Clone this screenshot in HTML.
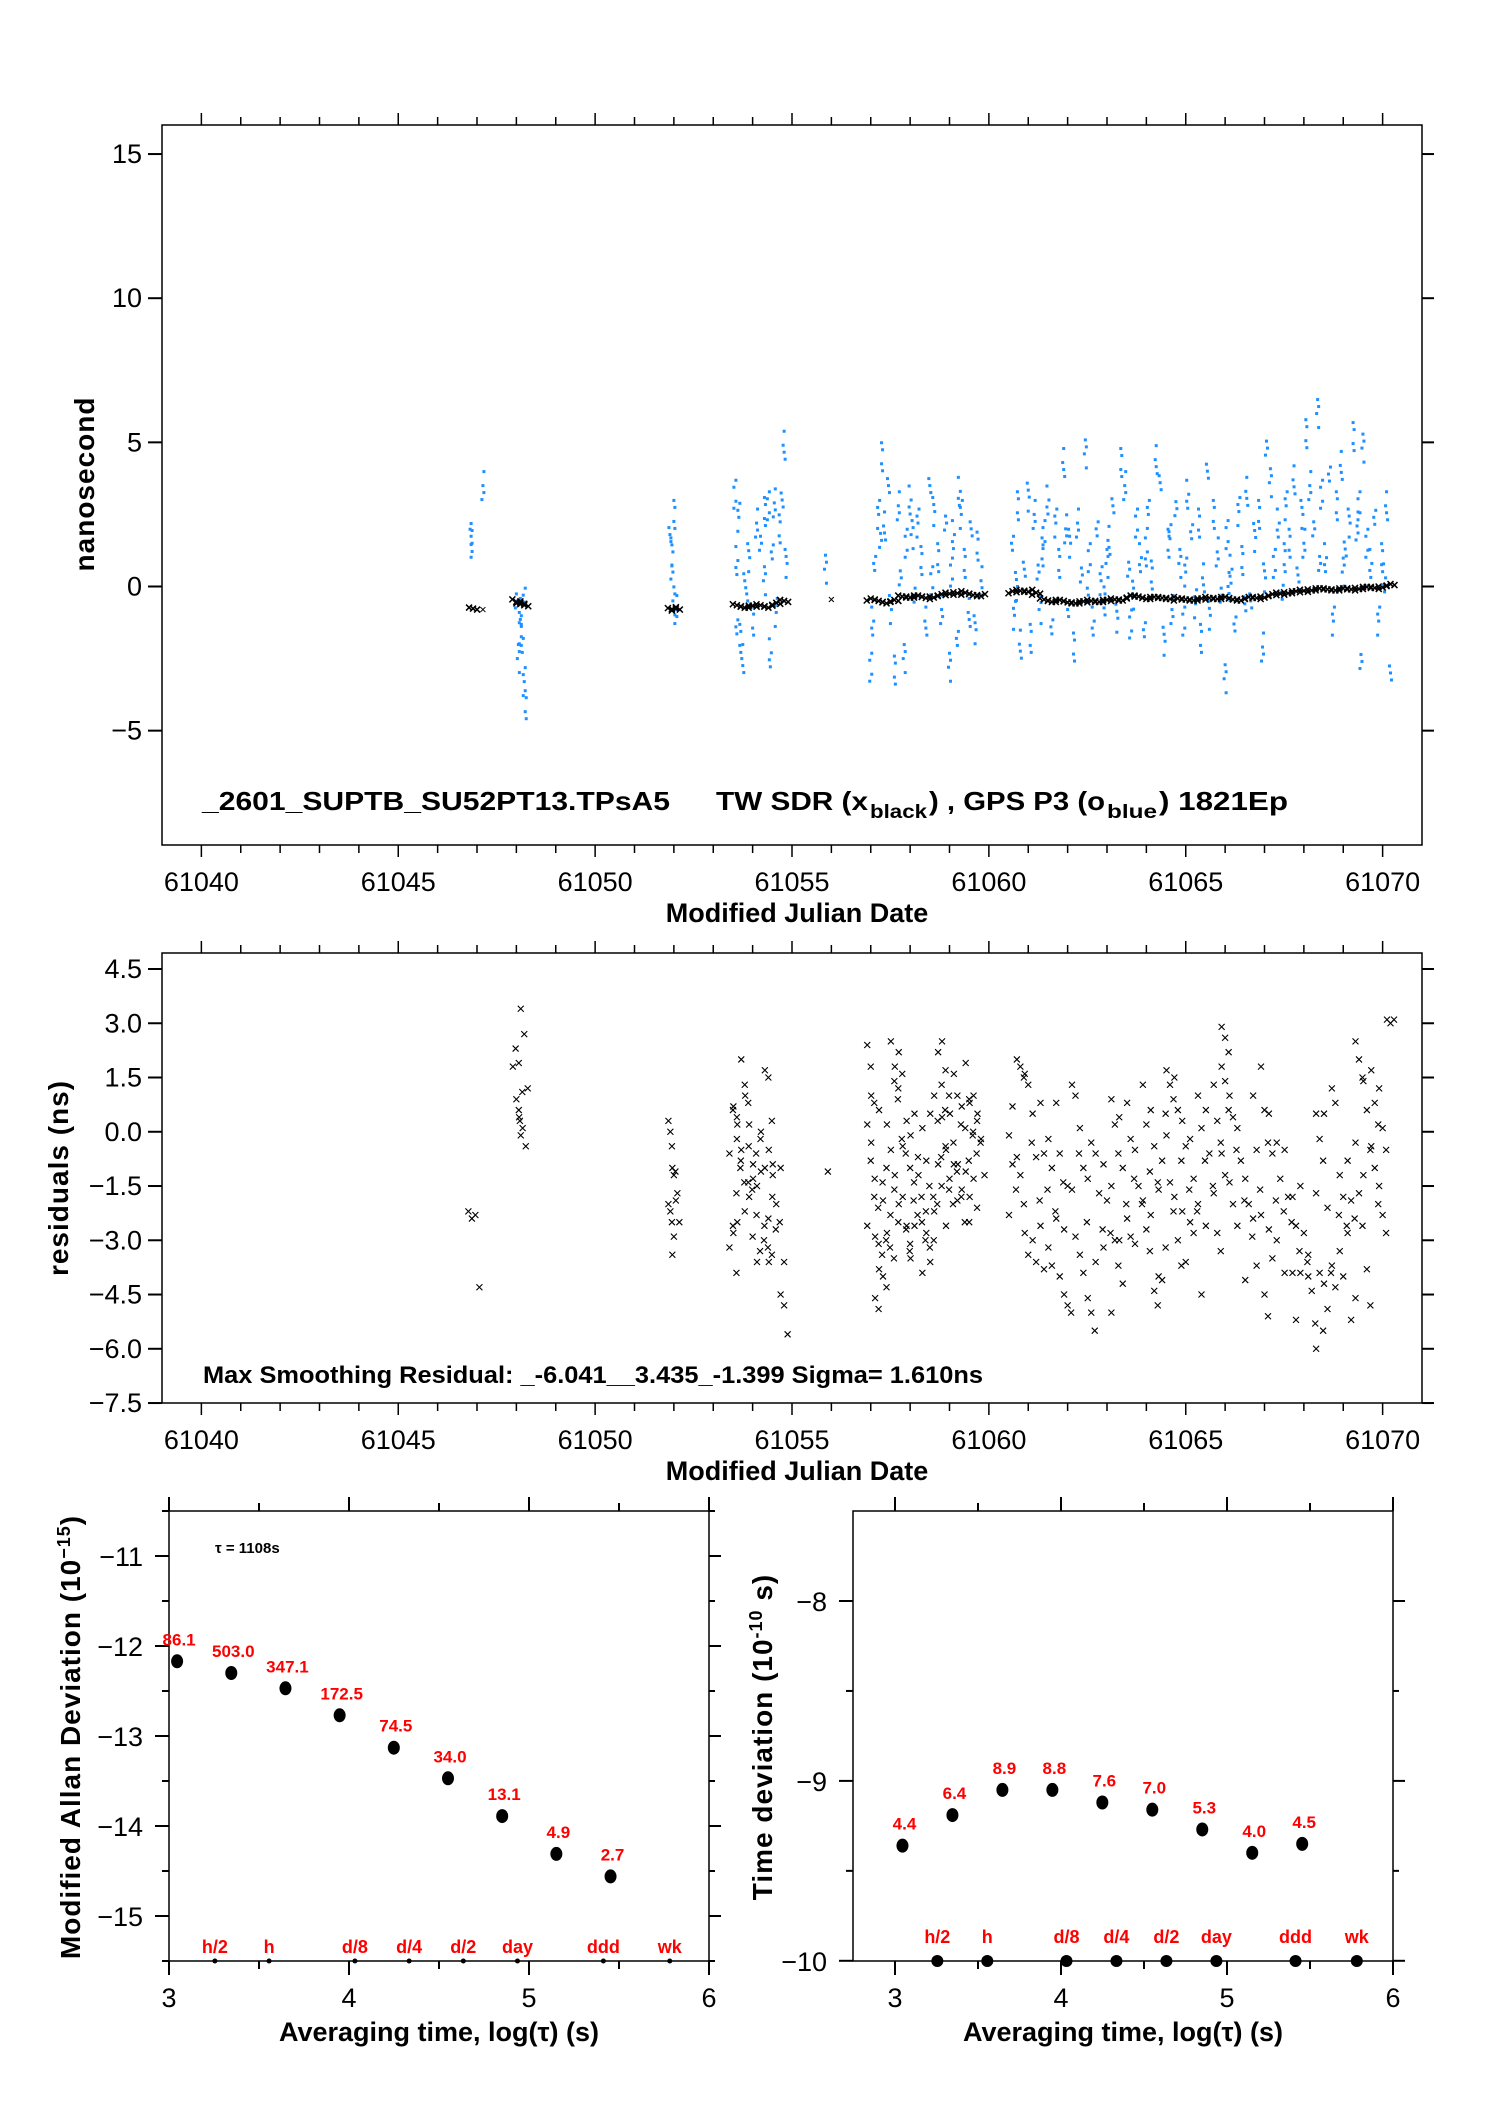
<!DOCTYPE html>
<html><head><meta charset="utf-8"><style>
html,body{margin:0;padding:0;background:#fff;}
svg{display:block;}
text{font-family:"Liberation Sans",Arial,sans-serif;}
</style></head><body>
<svg id="chart" width="1488" height="2105" viewBox="0 0 1488 2105" xmlns="http://www.w3.org/2000/svg">
<rect x="0" y="0" width="1488" height="2105" fill="#fff"/>
<g id="gTop"></g>
<g id="gMid"></g>
<g id="gBL"></g>
<g id="gBR"></g>
</svg>
<script>
// ---------- DATA ----------
const twMjd = [46.9,47.15,48.0,48.1,48.2,51.95,52.05,53.6,53.8,54.0,54.2,54.4,54.6,54.8,56.0,57.0,57.2,57.4,57.6,57.8,58.0,58.2,58.4,58.6,58.8,59.0,59.2,59.4,59.6,59.8,60.6,60.8,61.0,61.2,61.4,61.6,61.8,62.0,62.2,62.4,62.6,62.8,63.0,63.2,63.4,63.6,63.8,64.0,64.2,64.4,64.6,64.8,65.0,65.2,65.4,65.6,65.8,66.0,66.2,66.4,66.6,66.8,67.0,67.2,67.4,67.6,67.8,68.0,68.2,68.4,68.6,68.8,69.0,69.2,69.4,69.6,69.8,70.0,70.2];
const twNs = [-0.8,-0.8,-0.55,-0.6,-0.65,-0.75,-0.8,-0.65,-0.7,-0.7,-0.65,-0.7,-0.6,-0.5,-0.45,-0.45,-0.5,-0.55,-0.5,-0.35,-0.35,-0.35,-0.4,-0.35,-0.3,-0.25,-0.2,-0.25,-0.3,-0.3,-0.2,-0.15,-0.15,-0.25,-0.45,-0.5,-0.5,-0.55,-0.55,-0.55,-0.5,-0.5,-0.5,-0.45,-0.45,-0.35,-0.35,-0.4,-0.4,-0.4,-0.4,-0.45,-0.45,-0.45,-0.45,-0.4,-0.4,-0.4,-0.45,-0.45,-0.4,-0.4,-0.35,-0.3,-0.25,-0.2,-0.2,-0.15,-0.1,-0.1,-0.1,-0.1,-0.1,-0.1,-0.05,-0.05,-0.05,0.0,0.05];
const gpsMjd = [46.85,46.85,47.15,48.0,48.05,48.1,48.15,48.2,48.2,48.25,48.1,51.9,51.95,52.0,52.05,51.95,52.0,53.55,53.6,53.6,53.65,53.7,53.75,53.8,53.9,54.0,54.1,54.2,54.3,54.4,54.45,54.5,54.6,54.7,54.8,54.75,54.85,54.3,54.55,53.85,55.85,57.0,57.05,57.1,57.2,57.3,57.35,57.45,57.5,57.6,57.7,57.75,57.85,57.9,58.0,58.1,58.2,58.3,58.4,58.5,58.6,58.7,58.8,58.9,59.0,59.05,59.1,59.2,59.3,59.4,59.5,59.55,59.65,59.7,59.8,57.25,58.05,58.55,59.25,60.6,60.65,60.75,60.8,60.9,61.0,61.05,61.15,61.25,61.3,61.4,61.5,61.6,61.7,61.8,61.9,62.0,62.05,62.15,62.25,62.35,62.45,62.55,62.65,62.75,62.85,62.95,63.05,63.15,63.25,63.35,63.45,63.55,63.65,63.75,63.85,63.95,64.05,64.15,64.25,64.35,64.45,64.55,64.65,64.75,64.85,64.95,65.05,65.15,65.25,65.35,65.45,65.55,65.6,65.7,65.8,65.9,66.0,66.05,66.15,66.25,66.35,66.45,66.55,66.65,66.75,66.85,66.95,67.05,67.15,67.25,67.35,67.45,67.55,67.65,67.75,67.85,67.95,68.05,68.15,68.25,68.35,68.45,68.55,68.65,68.75,68.85,68.95,69.05,69.15,69.25,69.35,69.45,69.5,69.6,69.7,69.8,69.9,70.0,70.1,70.2,60.7,61.35,61.95,62.5,63.0,63.6,64.0,64.6,65.0,65.4,66.1,66.5,67.0,67.5,68.0,68.4,69.0,69.4,70.05];
const gpsNs = [1.5,1.7,3.5,-0.5,-2.5,-1.5,-1.8,-0.3,-3.3,-4.1,-0.9,1.8,1.2,2.5,-0.8,0.5,-0.5,3.2,0.9,-1.4,2.4,-1.8,-2.5,0.2,1.0,-1.2,2.2,1.5,0.2,2.8,-2.3,1.2,-0.9,2.0,4.9,3.0,0.8,2.6,2.9,-0.5,0.6,-2.8,-1.2,0.8,2.5,4.5,2.1,3.5,-0.8,-2.9,2.8,0.3,-2.5,1.5,3.0,-0.3,2.2,0.9,-1.2,3.5,2.6,1.0,-0.8,2.2,-2.8,0.5,1.8,-1.8,2.5,0.8,-0.9,2.0,-1.5,1.4,0.2,1.6,1.8,0.2,3.3,1.5,-1.0,2.8,-2.0,0.6,3.1,-1.8,2.5,0.5,-0.8,1.8,3.0,-1.4,2.2,0.8,4.3,-0.8,1.5,-2.1,2.2,0.4,4.6,1.0,-1.2,2.0,0.2,-0.5,1.6,2.8,-1.1,4.3,3.5,0.6,-0.3,2.2,1.0,-1.5,2.5,0.4,4.4,3.6,-1.9,1.5,-0.8,2.7,0.8,-1.2,3.2,1.9,-0.6,2.2,0.3,4.0,-1.0,2.5,1.2,-0.3,-3.2,1.8,0.6,-1.3,2.6,0.9,3.3,-0.5,1.7,2.5,-2.1,4.8,3.6,0.8,2.2,-0.2,2.8,1.5,3.7,0.4,2.5,5.3,3.5,2.0,6.0,3.2,1.0,3.9,-1.2,2.8,4.2,1.3,2.2,5.2,2.1,-2.6,4.8,1.5,0.8,2.4,-1.2,1.0,2.8,-3.0,0.0,1.2,2.0,-0.3,0.8,-1.3,1.2,1.9,0.5,-1.8,0.0,-0.6,0.3,1.0,1.5,0.8,0.5,2.8,0.3];
const resDays = [46.87,47.15,48.0,48.07,48.15,48.2,51.95,52.0,52.05,53.5,53.6,53.7,53.8,53.9,54.0,54.1,54.2,54.3,54.4,54.5,54.6,54.8,56.0,57.0,57.1,57.2,57.3,57.4,57.5,57.6,57.7,57.8,57.9,58.0,58.1,58.2,58.3,58.4,58.5,58.6,58.7,58.8,58.9,59.0,59.1,59.2,59.3,59.4,59.5,59.6,59.7,59.8,60.6,60.8,61.0,61.2,61.4,61.6,61.8,62.0,62.2,62.4,62.6,62.8,63.0,63.2,63.4,63.6,63.8,64.0,64.2,64.4,64.6,64.8,65.0,65.2,65.4,65.6,65.8,66.0,66.2,66.4,66.6,66.8,67.0,67.2,67.4,67.6,67.8,68.0,68.2,68.4,68.6,68.8,69.0,69.2,69.4,69.6,69.8,70.0,70.2];
const resVals = [[-2.2,-2.4,-2.3],[-4.3],[1.8,0.9,0.3],[2.3,0.4,0.1],[1.9,1.1,-0.4,0.6],[3.4,2.7,1.2,-0.1],[0.3,-0.4,-1.1,-2.0,-2.5],[0.0,-1.2,-1.7,-2.2,-2.9],[-1.0,-1.9,-2.5,-3.4],[-3.2,-2.6,-1.7,-0.6,0.6,-3.9],[0.7,-0.2,-1.0,-2.8,0.4],[0.2,-0.8,-1.4,-2.5],[2.0,1.3,0.8,-0.5,-2.2,-1.4],[1.0,-0.4,-1.6],[-1.8,-2.9,-0.6,0.2],[-0.9,-2.3,-3.3,-1.3],[-1.5,-0.2,-3.0,-3.6],[0.0,-2.6,-3.2,-1.1],[1.7,1.5,0.3,-1.0,-2.4,-3.4],[-0.5,-1.8,-2.7,-3.6],[-1.2,-2.0,-2.5,-0.9],[-4.5,-4.8,-5.6,-1.0,-3.6],[-1.1],[2.4,1.8,0.8,0.2,-0.8,-1.8,-2.6],[-0.3,-1.3,-2.1,1.0],[-2.9,-3.1,-3.4,-4.6,-4.9],[0.6,-1.4,-3.0,-3.8],[-4.0,-4.3,-3.2,-1.9,-1.0],[0.2,-2.3,-3.5,-2.8],[2.5,1.4,0.9,-0.5,-1.6],[1.8,1.2,-0.2,-1.2,-2.5],[2.2,1.6,-0.6,-2.0],[-1.8,-2.7,-3.3,-0.4],[0.3,-1.0,-1.9,-2.6,-3.1],[-0.1,-1.4,-2.3,-3.5],[0.5,-0.7,-1.8,-2.6],[-1.2,-2.5,-3.0],[-3.9,-2.2,-1.5,0.1],[-2.8,-3.2,-1.8,-0.8],[-3.6,-3.0,-2.0,0.5],[1.0,0.3,-0.7,-2.2],[2.2,1.3,0.6,-0.9,-1.5],[2.5,1.7,1.0,0.4,-0.4,-1.6],[-0.5,-1.3,-2.0,-2.6],[0.5,-0.3,-1.1],[1.6,1.0,0.2,-0.9,-1.9],[-0.9,-1.8,-2.5],[0.7,0.1,-0.8,-1.6],[1.9,0.9,-0.1,-1.1,-2.5],[0.8,0.0,-0.6,-1.8],[1.0,0.3,-0.3,-1.3,-2.1],[0.5,-0.2,-1.2],[-0.1,-0.9,-1.6,-2.3,0.7],[2.0,1.8,1.5,-0.7,-1.2,-2.0],[1.6,1.3,-0.3,-2.8,-3.4],[0.5,-0.7,-1.9,-3.0,-3.6],[0.8,-0.6,-1.6,-2.6,-3.8],[-0.2,-1.0,-2.2,-3.2,-3.7],[0.8,-0.6,-1.4,-2.4,-4.0],[-4.5,-4.8,-5.0,-2.7,-1.5],[1.3,1.0,-0.6,-1.6,-2.9],[0.1,-1.0,-2.5,-3.4,-3.9],[-4.6,-5.0,-5.5,-1.3,-0.3],[-0.6,-1.7,-2.7,-3.6],[-0.9,-1.9,-2.8,-3.2],[0.9,0.2,-0.6,-1.5,-3.0,-3.7,-5.0],[0.4,-1.0,-2.0,-3.0,-4.2],[0.8,-0.2,-1.3,-2.4,-2.9],[-0.5,-1.5,-2.0,-3.1],[1.3,0.2,-1.1,-1.9,-2.7,-3.3],[0.6,-0.4,-1.4,-2.3,-4.4,-4.8],[-4.0,-4.1,-3.2,-1.6,-0.8,0.5],[1.7,1.3,0.9,-0.1,-1.4,-2.2],[1.5,0.6,-0.8,-1.8,-3.0,-3.7],[0.3,-0.4,-1.6,-2.2,-3.6],[-0.2,-1.3,-2.2,-2.5,-2.8],[1.0,0.1,-0.8,-2.0,-4.5],[0.6,-0.6,-1.5,-2.6],[1.3,0.3,-0.3,-1.7,-2.8,-3.3],[2.9,2.6,2.2,1.8,1.4,0.6,-0.6,-1.2],[1.0,0.4,-0.5,-1.4,-2.0],[0.1,-0.8,-1.9,-2.6],[-1.3,-2.0,-2.9,-4.1],[1.0,-0.5,-1.6,-2.4,-3.7],[1.8,0.6,-0.3,-2.3,-4.5,-5.1],[0.5,-0.6,-1.9,-2.7,-3.5],[-0.3,-1.3,-2.2,-3.0],[-0.5,-1.8,-2.5,-3.9],[-1.8,-2.6,-3.3,-3.9,-5.2],[-1.5,-2.8,-3.6,-3.9],[-4.0,-4.4,-5.3,-3.4],[0.5,-0.2,-0.8,-1.7,-3.9,-5.5,-6.0],[0.5,-2.1,-3.9,-4.2,-4.9],[1.2,0.8,-2.3,-3.7,-4.3],[-1.2,-1.8,-2.6,-3.3,-4.0],[-0.8,-1.9,-2.4,-2.8,-5.2],[2.5,2.0,1.5,-0.3,-1.7,-2.6,-4.6],[1.4,0.6,-0.5,-1.2,-3.8,-4.8],[1.7,0.8,0.2,-0.4,-1.0,-2.0],[1.2,0.1,-0.5,-1.5,-2.3,-2.8],[3.1,3.0,3.1]];
const logTau = [3.045,3.346,3.647,3.948,4.249,4.550,4.851,5.152,5.453];
const mdevVals = [-12.17,-12.3,-12.47,-12.77,-13.13,-13.47,-13.89,-14.31,-14.56];
const mdevLabels = ["86.1","503.0","347.1","172.5","74.5","34.0","13.1","4.9","2.7"];
const tdevVals = [-9.36,-9.19,-9.05,-9.05,-9.12,-9.16,-9.27,-9.40,-9.35];
const tdevLabels = ["4.4","6.4","8.9","8.8","7.6","7.0","5.3","4.0","4.5"];
const markerNames = ["h/2","h","d/8","d/4","d/2","day","ddd","wk"];
const markerLog = [3.255,3.556,4.033,4.334,4.635,4.936,5.413,5.782];
const topYTicks = [15,10,5,0,-5];
const midYTicks = [4.5,3.0,1.5,0.0,-1.5,-3.0,-4.5,-6.0,-7.5];
const mjdTicks = [61040,61045,61050,61055,61060,61065,61070];

// ---------- HELPERS ----------
const NS='http://www.w3.org/2000/svg';
function mk(parent,tag,attrs,txt){const e=document.createElementNS(NS,tag);for(const k in attrs)e.setAttribute(k,attrs[k]);if(txt!==undefined)e.textContent=txt;parent.appendChild(e);return e;}
function fmt(v,d){const s=Math.abs(v).toFixed(d);return (v<0?'\u2212':'')+s;}

const MJD0=61039, MJD1=61071, FX0=162, FX1=1422;
const xM = m => FX0+(m-MJD0)*(FX1-FX0)/(MJD1-MJD0);
const yTop = v => 586.5 - v*28.83;
const yMid = v => 969 + (4.5-v)*36.17;
const xBL = l => 169 + (l-3)*180;
const yBL = v => 1556 + (-11 - v)*90;
const xBR = l => 895 + (l-3)*166;
const yBR = v => 1601 + (-8 - v)*179.9;

function frame(g,x0,y0,x1,y1){
  const r=mk(g,'rect',{x:x0,y:y0,width:x1-x0,height:y1-y0,fill:'none',stroke:'#000','stroke-width':1.5});
  
  
}
function mjdAxis(g,y0,y1,labelY,titleY){
  for(let d=MJD0+1;d<=MJD1-1;d++){
    const x=xM(d);const major=(d%5===0);const L=major?12:8;
    mk(g,'line',{x1:x,y1:y0,x2:x,y2:y0-L,stroke:'#000','stroke-width':1.5});
    mk(g,'line',{x1:x,y1:y1,x2:x,y2:y1+L,stroke:'#000','stroke-width':1.5});
  }
  mjdTicks.forEach(t=>{
    const e=mk(g,'text',{x:xM(t),y:labelY,'font-size':27,'text-anchor':'middle'},String(t));
    
    
  });
  const tt=mk(g,'text',{x:797,y:titleY,'font-size':27,'font-weight':'bold','text-anchor':'middle'},'Modified Julian Date');
  
  
}
function yTicks(g,vals,yf,x0,x1,dec){
  vals.forEach(v=>{
    const y=yf(v);
    mk(g,'line',{x1:x0,y1:y,x2:x0-14,y2:y,stroke:'#000','stroke-width':2});
    mk(g,'line',{x1:x1,y1:y,x2:x1+12,y2:y,stroke:'#000','stroke-width':2});
    const e=mk(g,'text',{x:x0-20,y:y+9,'font-size':27,'text-anchor':'end'},fmt(v,dec));
    
    
  });
}
function xMark(g,x,y,h,w){
  mk(g,'path',{d:`M${x-h} ${y-h}L${x+h} ${y+h}M${x-h} ${y+h}L${x+h} ${y-h}`,stroke:'#000','stroke-width':w,fill:'none'});
}

// ---------- TOP PLOT ----------
const gT=document.getElementById('gTop');
frame(gT,FX0,125,FX1,845);
mjdAxis(gT,125,845,891,922);
yTicks(gT,topYTicks,yTop,FX0,FX1,0);
const ytT=mk(gT,'text',{x:0,y:0,'font-size':28,'font-weight':'bold','text-anchor':'middle',transform:'translate(94,484) rotate(-90)','letter-spacing':'1'},'nanosecond');


const gpsG=mk(gT,'g',{fill:'#1e90ff'});


gpsMjd.forEach((m,i)=>{
  const x=xM(61000+m), y=yTop(gpsNs[i]);
  [-14,-7,0,7,14].forEach((o,k)=>{ if((i+k)%4!==3) mk(gpsG,'rect',{x:x-1.5+((i*7+k)%3-1),y:y+o-1.5,width:3,height:3}); });
});
const twG=mk(gT,'g',{});


twMjd.forEach((m,i)=>{
  const x=xM(61000+m), y=yTop(twNs[i]);
  const solo=(m===47.15||m===56.0);
  if(solo){xMark(twG,x,y,2.5,1);return;}
  [-4,0,4].forEach(o=>xMark(twG,x+o,y+((i+o)%3)-1,3,1.5));
});
const ann=mk(gT,'text',{y:810,'font-size':26,'font-weight':'bold'});


mk(ann,'tspan',{x:202,textLength:468,lengthAdjust:'spacingAndGlyphs'},'_2601_SUPTB_SU52PT13.TPsA5');
mk(ann,'tspan',{x:716,textLength:152,lengthAdjust:'spacingAndGlyphs'},'TW SDR (x');
mk(ann,'tspan',{x:870,dy:8,'font-size':19,textLength:57,lengthAdjust:'spacingAndGlyphs'},'black');
mk(ann,'tspan',{x:929,dy:-8,textLength:176,lengthAdjust:'spacingAndGlyphs'},') ,  GPS P3 (o');
mk(ann,'tspan',{x:1107,dy:8,'font-size':19,textLength:50,lengthAdjust:'spacingAndGlyphs'},'blue');
mk(ann,'tspan',{x:1159,dy:-8,textLength:129,lengthAdjust:'spacingAndGlyphs'},')  1821Ep');

// ---------- MIDDLE PLOT ----------
const gM=document.getElementById('gMid');
frame(gM,FX0,953,FX1,1403);
mjdAxis(gM,953,1403,1449,1480);
yTicks(gM,midYTicks,yMid,FX0,FX1,1);
const ytM=mk(gM,'text',{x:0,y:0,'font-size':28,'font-weight':'bold','text-anchor':'middle',transform:'translate(68,1178) rotate(-90)','letter-spacing':'1'},'residuals (ns)');


const rG=mk(gM,'g',{});


resDays.forEach((d,i)=>{
  resVals[i].forEach((v,k)=>{
    const x=xM(61000+d)+((k%3)-1)*3.5, y=yMid(v);
    xMark(rG,x,y,3,1.1);
  });
});
const a2=mk(gM,'text',{x:203,y:1383,'font-size':24,'font-weight':'bold',textLength:780,lengthAdjust:'spacingAndGlyphs'},'Max Smoothing Residual: _-6.041__3.435_-1.399  Sigma= 1.610ns');



// ---------- BOTTOM PANELS ----------
function devPanel(g,x0,x1,xf,yf,ymaj,ymin,vals,labels,markDotR,markLabelY,titleX,titleText,titleSup,titleTail){
  const y0=1511,y1=1961;
  frame(g,x0,y0,x1,y1);
  for(let l=3;l<=6.001;l+=0.5){
    const x=xf(l);const major=Math.abs(l-Math.round(l))<0.01;const L=major?14:8;
    mk(g,'line',{x1:x,y1:y0,x2:x,y2:y0-L,stroke:'#000','stroke-width':2});
    mk(g,'line',{x1:x,y1:y1,x2:x,y2:y1+L,stroke:'#000','stroke-width':2});
    if(major){const e=mk(g,'text',{x:x,y:2007,'font-size':27,'text-anchor':'middle'},String(Math.round(l)));
      
      }
  }
  ymaj.forEach(v=>{const y=yf(v);
    mk(g,'line',{x1:x0,y1:y,x2:x0-14,y2:y,stroke:'#000','stroke-width':2});
    mk(g,'line',{x1:x1,y1:y,x2:x1+12,y2:y,stroke:'#000','stroke-width':2});
    const e=mk(g,'text',{x:x0-26,y:y+10,'font-size':27,'text-anchor':'end'},fmt(v,0));
    
    });
  ymin.forEach(v=>{const y=yf(v);
    mk(g,'line',{x1:x0,y1:y,x2:x0-7,y2:y,stroke:'#000','stroke-width':2});
    mk(g,'line',{x1:x1,y1:y,x2:x1+6,y2:y,stroke:'#000','stroke-width':2});});
  const xt=mk(g,'text',{x:(x0+x1)/2,y:2041,'font-size':27,'font-weight':'bold','text-anchor':'middle'},'Averaging time, log(\u03c4) (s)');
  
  
  const yt=mk(g,'text',{x:0,y:0,'font-size':28,'font-weight':'bold','text-anchor':'middle',transform:`translate(${titleX},1737) rotate(-90)`,'letter-spacing':'1'});
  
  
  mk(yt,'tspan',{},titleText);
  mk(yt,'tspan',{dy:-10,'font-size':18},titleSup);
  mk(yt,'tspan',{dy:10},titleTail);
  const pts=mk(g,'g',{});
  
  
  logTau.forEach((l,i)=>{
    const x=xf(l),y=yf(vals[i]);
    mk(pts,'ellipse',{cx:x,cy:y,rx:6,ry:7,fill:'#000'});
    const t=mk(pts,'text',{x:x+2,y:y-16,'font-size':17,'font-weight':'bold',fill:'#f00','text-anchor':'middle'},labels[i]);
    
    
  });
  markerLog.forEach((l,i)=>{
    const x=xf(l);
    mk(g,'ellipse',{cx:x,cy:y1,rx:markDotR,ry:markDotR,fill:'#000'});
    const t=mk(g,'text',{x:x,y:markLabelY,'font-size':18,'font-weight':'bold',fill:'#f00','text-anchor':'middle'},markerNames[i]);
    
    
  });
}
const gBL=document.getElementById('gBL');
devPanel(gBL,169,709,xBL,yBL,[-11,-12,-13,-14,-15],[-10.5,-11.5,-12.5,-13.5,-14.5,-15.5],mdevVals,mdevLabels,2.5,1953,80,'Modified Allan Deviation (10','\u221215',')');
const tau=mk(gBL,'text',{x:215,y:1553,'font-size':15,'font-weight':'bold'},'\u03c4 = 1108s');


const gBR=document.getElementById('gBR');
devPanel(gBR,853,1393,xBR,yBR,[-8,-9,-10],[-8.5,-9.5],tdevVals,tdevLabels,6,1943,772,'Time deviation (10','-10',' s)');
</script>
</body></html>
